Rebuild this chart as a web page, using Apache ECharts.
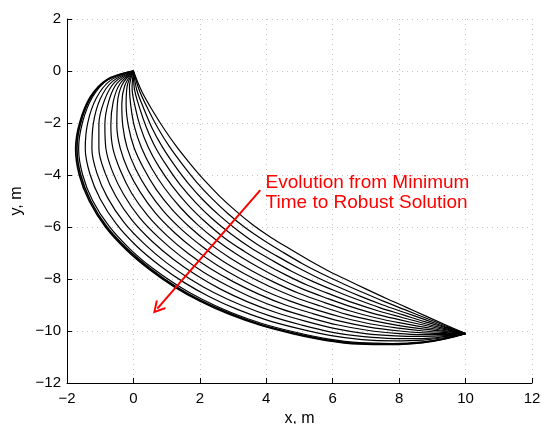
<!DOCTYPE html>
<html>
<head>
<meta charset="utf-8">
<script src="https://cdn.jsdelivr.net/npm/echarts@6/dist/echarts.min.js"></script>
<style>
  html, body { margin: 0; padding: 0; background: #fff; }
  #chart { width: 542px; height: 424px; }
</style>
</head>
<body>
<div id="chart"></div>
<script>
// Trajectory iterations, outermost (converged) first, innermost (minimum time) last.
const iter01 = [[0,0],[-0.8,-0.33],[-1.3,-1],[-1.62,-2],[-1.74,-3],[-1.63,-4],[-1.33,-5],[-0.84,-6],[-0.21,-6.88],[0.5,-7.65],[1.23,-8.3],[2,-8.85],[2.89,-9.36],[3.81,-9.77],[4.8,-10.1],[5.8,-10.36],[6.8,-10.5],[7.8,-10.52],[8.7,-10.45],[9.4,-10.3],[10,-10.1]];
const iter02 = [[0,0],[-0.79,-0.34],[-1.28,-1.01],[-1.59,-2],[-1.7,-3],[-1.59,-3.99],[-1.29,-4.99],[-0.8,-5.99],[-0.17,-6.86],[0.54,-7.63],[1.26,-8.28],[2.03,-8.83],[2.92,-9.33],[3.83,-9.75],[4.82,-10.08],[5.81,-10.34],[6.81,-10.48],[7.8,-10.5],[8.7,-10.44],[9.4,-10.29],[10,-10.1]];
const iter03 = [[0,0],[-0.77,-0.34],[-1.24,-1.02],[-1.54,-2.01],[-1.65,-3],[-1.53,-3.99],[-1.23,-4.98],[-0.74,-5.96],[-0.11,-6.84],[0.59,-7.6],[1.32,-8.24],[2.08,-8.79],[2.96,-9.3],[3.87,-9.71],[4.85,-10.04],[5.84,-10.3],[6.82,-10.45],[7.81,-10.48],[8.7,-10.42],[9.4,-10.28],[10,-10.1]];
const iter04 = [[0,0],[-0.7,-0.37],[-1.12,-1.05],[-1.38,-2.02],[-1.45,-2.99],[-1.31,-3.96],[-1,-4.92],[-0.51,-5.89],[0.1,-6.74],[0.79,-7.48],[1.51,-8.12],[2.26,-8.66],[3.11,-9.16],[4,-9.57],[4.95,-9.9],[5.91,-10.17],[6.88,-10.33],[7.84,-10.38],[8.71,-10.35],[9.4,-10.25],[10,-10.1]];
const iter05 = [[0,0],[-0.63,-0.4],[-1,-1.08],[-1.21,-2.04],[-1.25,-2.99],[-1.1,-3.93],[-0.78,-4.87],[-0.29,-5.81],[0.32,-6.64],[0.99,-7.37],[1.69,-7.99],[2.43,-8.53],[3.27,-9.02],[4.13,-9.43],[5.06,-9.77],[5.99,-10.05],[6.93,-10.22],[7.86,-10.29],[8.71,-10.29],[9.4,-10.21],[10,-10.1]];
const iter06 = [[0,0],[-0.56,-0.43],[-0.87,-1.12],[-1.04,-2.05],[-1.04,-2.98],[-0.86,-3.9],[-0.53,-4.82],[-0.05,-5.73],[0.55,-6.54],[1.21,-7.25],[1.9,-7.86],[2.62,-8.39],[3.44,-8.88],[4.27,-9.28],[5.17,-9.62],[6.08,-9.91],[6.98,-10.1],[7.89,-10.19],[8.72,-10.21],[9.4,-10.18],[10,-10.1]];
const iter07 = [[0,0],[-0.49,-0.47],[-0.74,-1.15],[-0.86,-2.07],[-0.83,-2.97],[-0.63,-3.87],[-0.29,-4.76],[0.19,-5.65],[0.78,-6.43],[1.43,-7.13],[2.1,-7.73],[2.81,-8.24],[3.6,-8.73],[4.42,-9.14],[5.29,-9.48],[6.16,-9.77],[7.04,-9.97],[7.92,-10.09],[8.73,-10.14],[9.4,-10.14],[10,-10.1]];
const iter08 = [[0,0],[-0.41,-0.5],[-0.61,-1.19],[-0.68,-2.08],[-0.62,-2.97],[-0.39,-3.84],[-0.05,-4.71],[0.43,-5.56],[1.01,-6.33],[1.64,-7.01],[2.3,-7.59],[3,-8.1],[3.77,-8.58],[4.56,-8.99],[5.4,-9.33],[6.25,-9.63],[7.1,-9.85],[7.95,-9.99],[8.73,-10.07],[9.4,-10.1],[10,-10.1]];
const iter09 = [[0,0],[-0.34,-0.53],[-0.48,-1.22],[-0.5,-2.1],[-0.4,-2.96],[-0.16,-3.81],[0.2,-4.65],[0.67,-5.48],[1.24,-6.22],[1.86,-6.88],[2.51,-7.46],[3.18,-7.96],[3.93,-8.44],[4.7,-8.84],[5.51,-9.19],[6.33,-9.49],[7.15,-9.73],[7.98,-9.89],[8.74,-10],[9.4,-10.06],[10,-10.1]];
const iter10 = [[0,0],[-0.26,-0.56],[-0.35,-1.26],[-0.32,-2.11],[-0.19,-2.95],[0.07,-3.78],[0.44,-4.6],[0.91,-5.4],[1.47,-6.12],[2.08,-6.76],[2.71,-7.33],[3.37,-7.82],[4.1,-8.29],[4.84,-8.69],[5.63,-9.04],[6.42,-9.36],[7.21,-9.6],[8,-9.79],[8.75,-9.93],[9.39,-10.02],[10,-10.1]];
const iter11 = [[0,0],[-0.19,-0.59],[-0.22,-1.3],[-0.15,-2.13],[0.02,-2.95],[0.31,-3.75],[0.68,-4.54],[1.16,-5.32],[1.7,-6.01],[2.29,-6.64],[2.91,-7.19],[3.56,-7.68],[4.26,-8.14],[4.98,-8.55],[5.74,-8.9],[6.5,-9.22],[7.26,-9.48],[8.03,-9.69],[8.75,-9.85],[9.39,-9.99],[10,-10.1]];
const iter12 = [[0,0],[-0.12,-0.62],[-0.08,-1.33],[0.03,-2.14],[0.24,-2.94],[0.54,-3.72],[0.93,-4.49],[1.4,-5.23],[1.93,-5.91],[2.51,-6.52],[3.12,-7.06],[3.75,-7.54],[4.43,-8],[5.12,-8.4],[5.85,-8.75],[6.59,-9.08],[7.32,-9.36],[8.06,-9.58],[8.76,-9.78],[9.39,-9.95],[10,-10.1]];
const iter13 = [[0,0],[-0.04,-0.65],[0.05,-1.37],[0.21,-2.16],[0.45,-2.94],[0.77,-3.69],[1.17,-4.43],[1.64,-5.15],[2.16,-5.8],[2.72,-6.4],[3.32,-6.92],[3.94,-7.4],[4.6,-7.85],[5.26,-8.25],[5.97,-8.61],[6.67,-8.94],[7.38,-9.23],[8.09,-9.48],[8.76,-9.71],[9.39,-9.91],[10,-10.1]];
const iter14 = [[0,0],[0.03,-0.69],[0.18,-1.4],[0.39,-2.17],[0.66,-2.93],[1.01,-3.66],[1.41,-4.38],[1.88,-5.07],[2.39,-5.7],[2.94,-6.27],[3.52,-6.79],[4.13,-7.25],[4.76,-7.7],[5.41,-8.1],[6.08,-8.46],[6.76,-8.8],[7.43,-9.11],[8.12,-9.38],[8.77,-9.64],[9.39,-9.87],[10,-10.1]];
const iter15 = [[0,0],[0.1,-0.72],[0.31,-1.44],[0.56,-2.19],[0.87,-2.92],[1.24,-3.63],[1.65,-4.32],[2.12,-4.99],[2.62,-5.59],[3.16,-6.15],[3.72,-6.66],[4.31,-7.11],[4.93,-7.55],[5.55,-7.95],[6.19,-8.32],[6.84,-8.67],[7.49,-8.99],[8.14,-9.28],[8.78,-9.56],[9.39,-9.84],[10,-10.1]];
const iter16 = [[0,0],[0.18,-0.75],[0.44,-1.47],[0.74,-2.2],[1.09,-2.92],[1.48,-3.6],[1.9,-4.27],[2.36,-4.9],[2.85,-5.49],[3.37,-6.03],[3.93,-6.52],[4.5,-6.97],[5.09,-7.41],[5.69,-7.81],[6.31,-8.18],[6.93,-8.53],[7.54,-8.86],[8.17,-9.18],[8.78,-9.49],[9.39,-9.8],[10,-10.1]];
const iter17 = [[0,0],[0.25,-0.78],[0.57,-1.51],[0.92,-2.22],[1.3,-2.91],[1.71,-3.57],[2.14,-4.21],[2.6,-4.82],[3.08,-5.38],[3.59,-5.91],[4.13,-6.39],[4.69,-6.83],[5.26,-7.26],[5.83,-7.66],[6.42,-8.03],[7.01,-8.39],[7.6,-8.74],[8.2,-9.08],[8.79,-9.42],[9.39,-9.76],[10,-10.1]];

const iterations = [iter01, iter02, iter03, iter04, iter05, iter06, iter07, iter08, iter09,
                    iter10, iter11, iter12, iter13, iter14, iter15, iter16, iter17];

// Annotation: arrow from the text towards the converged trajectory.
const arrowFrom = [3.82, -4.58];
const arrowTo = [0.72, -9.14];
const noteAnchor = [3.98, -3.92];
const noteText = 'Evolution from Minimum\nTime to Robust Solution';

const xTicks = { min: -2, max: 12, step: 2 };
const yTicks = { min: -12, max: 2, step: 2 };

const FONT = '"Liberation Sans", Arial, Helvetica, sans-serif';
const fmt = v => (v < 0 ? '\u2212' + Math.abs(v) : String(v));

const axisCommon = {
  axisLine: { show: true, onZero: false, lineStyle: { color: '#000', width: 1 } },
  axisTick: { show: true, inside: true, length: 5, lineStyle: { color: '#000' } },
  axisLabel: { color: '#000', fontSize: 15, fontFamily: FONT, formatter: fmt },
  splitLine: { show: true, lineStyle: { color: '#c4c4c4', type: [1, 4], width: 1 } },
  nameLocation: 'middle',
  nameTextStyle: { color: '#000', fontSize: 16, fontFamily: FONT }
};

// the converged (outermost) iterations are drawn a touch heavier
const series = iterations.map((pts, i) => ({
  type: 'line',
  data: pts,
  smooth: 0.35,
  showSymbol: false,
  silent: true,
  lineStyle: { color: '#000', width: i < 2 ? 1.6 : 1.2 },
  z: 2
}));

series.push({
  type: 'line',
  data: [],
  silent: true,
  markLine: {
    silent: true,
    symbol: ['none', 'path://M5,0 L10,9 L8.8,10 L5,3 L1.2,10 L0,9 Z'],
    symbolSize: [13, 13],
    lineStyle: { color: '#ff0000', width: 2, type: 'solid' },
    label: { show: false },
    data: [[{ coord: arrowFrom }, { coord: arrowTo }]]
  },
  markPoint: {
    silent: true,
    symbol: 'circle',
    symbolSize: 0,
    label: {
      show: true,
      position: [0, 0],
      align: 'left',
      verticalAlign: 'top',
      color: '#ff0000',
      fontSize: 19,
      lineHeight: 20,
      fontFamily: FONT,
      formatter: noteText
    },
    data: [{ coord: noteAnchor }]
  },
  z: 5
});

const chart = echarts.init(document.getElementById('chart'), null, { renderer: 'canvas' });
chart.setOption({
  animation: false,
  backgroundColor: '#fff',
  grid: { left: 67, right: 10, top: 19, bottom: 41, containLabel: false, outerBoundsMode: 'none' },
  xAxis: Object.assign({}, axisCommon, {
    type: 'value', min: xTicks.min, max: xTicks.max, interval: xTicks.step,
    name: 'x, m', nameGap: 25,
    axisLabel: Object.assign({}, axisCommon.axisLabel, { margin: 8 })
  }),
  yAxis: Object.assign({}, axisCommon, {
    type: 'value', min: yTicks.min, max: yTicks.max, interval: yTicks.step,
    name: 'y, m', nameGap: 34,
    axisLabel: Object.assign({}, axisCommon.axisLabel, { margin: 6 })
  }),
  series: series
});
</script>
</body>
</html>
